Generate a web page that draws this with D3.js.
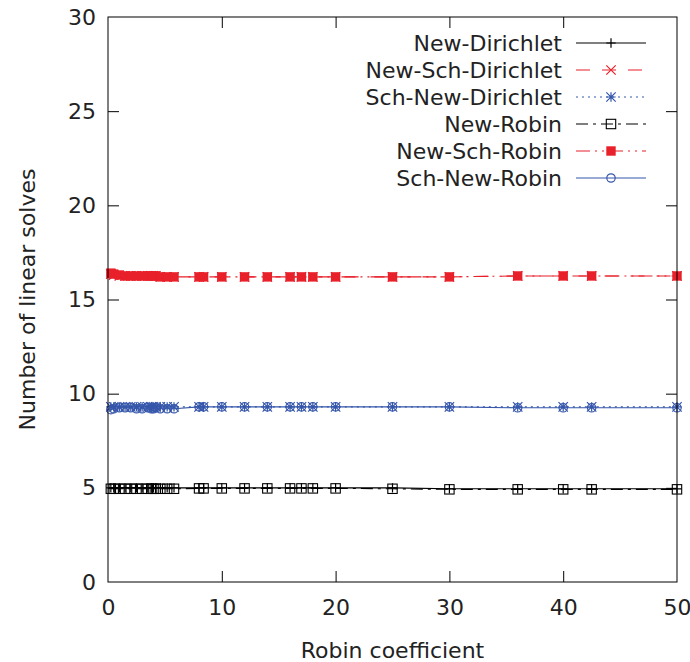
<!DOCTYPE html>
<html><head><meta charset="utf-8">
<script src="https://cdn.jsdelivr.net/npm/d3@7"></script>
<style>body{margin:0;background:#fff}svg{font-family:"DejaVu Sans",sans-serif}</style>
</head><body><svg id="c" width="690" height="662"></svg>
<script>
const robinCoef = [0.25,0.5,1,1.5,2,2.5,3,3.5,3.8,4,4.2,4.6,5.2,5.8,8,8.4,10,12,14,16,17,18,20,25,30,36,40,42.5,50];
const newDirichlet    = [5,5,5,5,5,5,5,5,5,5,5,5,5,5,5,5,5,5,5,5,5,5,5,5,4.95,4.95,4.95,4.95,4.95];
const newSchDirichlet = [16.35,16.3,16.25,16.25,16.25,16.25,16.25,16.25,16.25,16.25,16.25,16.2,16.2,16.2,16.2,16.2,16.2,16.2,16.2,16.2,16.2,16.2,16.2,16.2,16.2,16.25,16.25,16.25,16.25];
const schNewDirichlet = [9.3,9.3,9.3,9.3,9.3,9.3,9.3,9.3,9.3,9.3,9.3,9.3,9.3,9.3,9.3,9.3,9.3,9.3,9.3,9.3,9.3,9.3,9.3,9.3,9.3,9.3,9.3,9.3,9.3];
const newRobin        = [4.95,4.95,4.95,4.95,4.95,4.95,4.95,4.95,4.95,4.95,4.95,4.95,4.95,4.95,4.97,4.97,4.97,4.97,4.97,4.97,4.97,4.97,4.97,4.95,4.92,4.92,4.92,4.92,4.92];
const newSchRobin     = [16.4,16.35,16.3,16.25,16.25,16.25,16.25,16.25,16.25,16.25,16.25,16.2,16.2,16.2,16.2,16.2,16.2,16.2,16.2,16.2,16.2,16.2,16.2,16.2,16.2,16.25,16.25,16.25,16.25];
const schNewRobin     = [9.15,9.2,9.25,9.25,9.25,9.2,9.2,9.25,9.2,9.2,9.25,9.2,9.2,9.2,9.3,9.3,9.3,9.3,9.3,9.3,9.3,9.3,9.3,9.3,9.3,9.25,9.25,9.25,9.25];
const seriesNames = ["New-Dirichlet","New-Sch-Dirichlet","Sch-New-Dirichlet","New-Robin","New-Sch-Robin","Sch-New-Robin"];
const xTicks = [0,10,20,30,40,50];
const yTicks = [0,5,10,15,20,25,30];

const RED = "#e8202a", BLUE = "#3556aa", BLACK = "#000";
const styles = [
  {color:BLACK, dash:null, marker:"plus"},
  {color:RED, dash:"14,12", marker:"cross"},
  {color:BLUE, dash:"2,4", marker:"star"},
  {color:BLACK, dash:"12,5,3,5", marker:"square"},
  {color:RED, dash:"14,5,2,5,2,5", marker:"fsquare"},
  {color:BLUE, dash:null, marker:"circle"}
];
const data = [newDirichlet,newSchDirichlet,schNewDirichlet,newRobin,newSchRobin,schNewRobin];

const svg = d3.select("#c");
const L=108, R=677, T=17, B=582;
const FS=22;
const x = d3.scaleLinear().domain([0,50]).range([L,R]);
const y = d3.scaleLinear().domain([0,30]).range([B,T]);

function marker(g, type, cx, cy, color){
  const s=4.7;
  if(type==="plus"){
    g.append("path").attr("d",`M${cx-s},${cy}H${cx+s}M${cx},${cy-s}V${cy+s}`).attr("stroke",color).attr("stroke-width",1.2).attr("fill","none");
  } else if(type==="cross"){
    g.append("path").attr("d",`M${cx-s},${cy-s}L${cx+s},${cy+s}M${cx-s},${cy+s}L${cx+s},${cy-s}`).attr("stroke",color).attr("stroke-width",1.2).attr("fill","none");
  } else if(type==="star"){
    g.append("path").attr("d",`M${cx-s},${cy}H${cx+s}M${cx},${cy-s}V${cy+s}M${cx-s},${cy-s}L${cx+s},${cy+s}M${cx-s},${cy+s}L${cx+s},${cy-s}`).attr("stroke",color).attr("stroke-width",1.2).attr("fill","none");
  } else if(type==="square"){
    g.append("rect").attr("x",cx-s).attr("y",cy-s).attr("width",2*s).attr("height",2*s).attr("stroke",color).attr("stroke-width",1.1).attr("fill","none");
  } else if(type==="fsquare"){
    g.append("rect").attr("x",cx-s).attr("y",cy-s).attr("width",2*s).attr("height",2*s).attr("fill",color);
  } else if(type==="circle"){
    g.append("circle").attr("cx",cx).attr("cy",cy).attr("r",s-0.5).attr("stroke",color).attr("stroke-width",1.2).attr("fill","none");
  }
}

const line = d3.line().x((d,i)=>x(robinCoef[i])).y(d=>y(d));
data.forEach((vals,k)=>{
  const st=styles[k];
  const g=svg.append("g");
  g.append("path").attr("d",line(vals)).attr("fill","none").attr("stroke",st.color).attr("stroke-width",1.1)
    .attr("stroke-dasharray",st.dash);
  vals.forEach((v,i)=>marker(g,st.marker,x(robinCoef[i]),y(v),st.color));
});

svg.append("rect").attr("x",L).attr("y",T).attr("width",R-L).attr("height",B-T).attr("fill","none").attr("stroke","#000").attr("stroke-width",1);

const TL=11;
const xb = svg.append("g").attr("transform",`translate(0,${B})`).call(d3.axisBottom(x).tickValues(xTicks).tickSize(-TL).tickPadding(17).tickFormat(d3.format("d")));
const xt = svg.append("g").attr("transform",`translate(0,${T})`).call(d3.axisTop(x).tickValues(xTicks).tickSize(-TL).tickFormat(""));
const yl = svg.append("g").attr("transform",`translate(${L},0)`).call(d3.axisLeft(y).tickValues(yTicks).tickSize(-TL).tickPadding(12).tickFormat(d3.format("d")));
const yr = svg.append("g").attr("transform",`translate(${R},0)`).call(d3.axisRight(y).tickValues(yTicks).tickSize(-TL).tickFormat(""));
[xb,xt,yl,yr].forEach(a=>{a.select(".domain").remove(); a.selectAll(".tick line").attr("stroke","#000");
  a.selectAll("text").attr("font-size",FS).attr("fill","#222").attr("font-family","DejaVu Sans");});
xb.selectAll(".tick").filter(d=>d===0||d===50).select("line").remove();
xt.selectAll(".tick").filter(d=>d===0||d===50).select("line").remove();
yl.selectAll(".tick").filter(d=>d===0||d===30).select("line").remove();
yr.selectAll(".tick").filter(d=>d===0||d===30).select("line").remove();

svg.append("text").attr("x",(L+R)/2).attr("y",658).attr("text-anchor","middle").attr("font-size",FS).attr("fill","#222").text("Robin coefficient");
svg.append("text").attr("transform",`translate(35,${(T+B)/2}) rotate(-90)`).attr("text-anchor","middle").attr("font-size",FS).attr("fill","#222").text("Number of linear solves");

const lg = svg.append("g");
seriesNames.forEach((name,k)=>{
  const st=styles[k]; const ly=43+k*27;
  lg.append("text").attr("x",562).attr("y",ly).attr("dy","0.35em").attr("text-anchor","end").attr("font-size",FS).attr("fill","#222").text(name);
  lg.append("line").attr("x1",576).attr("x2",646).attr("y1",ly).attr("y2",ly).attr("stroke",st.color).attr("stroke-width",1.1).attr("stroke-dasharray",st.dash);
  marker(lg,st.marker,611,ly,st.color);
});
</script></body></html>
